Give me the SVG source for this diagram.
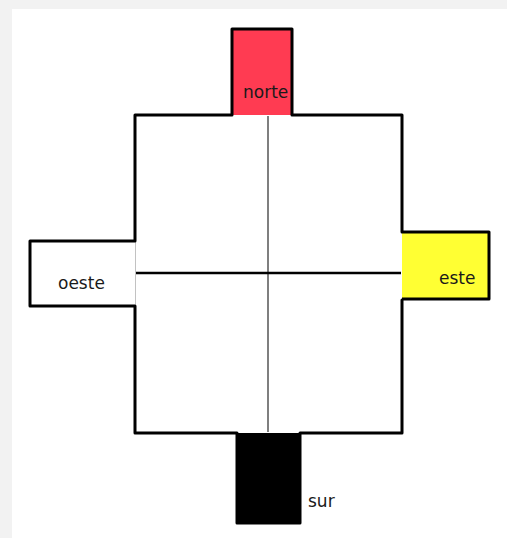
<svg xmlns="http://www.w3.org/2000/svg" width="507" height="538" viewBox="0 0 507 538">
  <style>
    .wall { fill: none; stroke: #000; stroke-width: 3; stroke-linejoin: round; stroke-linecap: round; }
    .box { stroke: #000; stroke-width: 3; stroke-linejoin: round; }
    .lbl { font-family: "DejaVu Sans", Verdana, sans-serif; font-size: 17px; fill: #1a1a1a; }
  </style>
  <rect x="0" y="0" width="507" height="538" fill="#f2f2f2"/>
  <rect x="12" y="9" width="495" height="529" fill="#ffffff"/>

  <g id="connectors">
    <line x1="268" y1="116" x2="268" y2="432" stroke="#555" stroke-width="1.5"/>
    <line x1="136" y1="273" x2="401" y2="273" stroke="#000" stroke-width="2.5"/>
    <line x1="135" y1="241" x2="135" y2="306" stroke="#999" stroke-width="1.2"/>
  </g>

  <g id="room">
    <path class="wall" d="M232 115 H135 V241 M135 306 V433 H237 M300 433 H402 V300 M402 232 V115 H292"/>
  </g>

  <g id="norte">
    <path class="box" d="M232 115 V29 H292 V115" fill="#ff3b52"/>
    <text class="lbl" x="243" y="98">norte</text>
  </g>

  <g id="oeste">
    <path class="box" d="M135 241 H30 V306 H135" fill="#ffffff"/>
    <text class="lbl" x="58" y="289">oeste</text>
  </g>

  <g id="este">
    <path class="box" d="M402 232 H489 V299 H402" fill="#ffff33"/>
    <text class="lbl" x="439" y="284">este</text>
  </g>

  <g id="sur">
    <path class="box" d="M237 433 V523 H300 V433" fill="#000000"/>
    <text class="lbl" x="308" y="507">sur</text>
  </g>
</svg>
